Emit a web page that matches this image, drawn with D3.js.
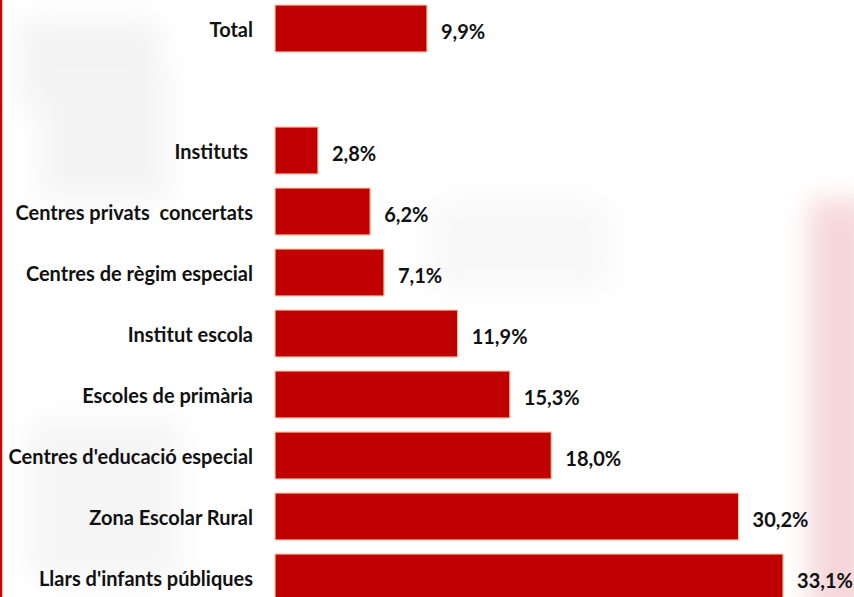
<!DOCTYPE html>
<html><head><meta charset="utf-8">
<script src="https://cdn.jsdelivr.net/npm/d3@7"></script>
<style>
html,body{margin:0;padding:0;background:#fff;}
svg text{white-space:pre;}
</style></head>
<body><svg id="c" width="854" height="597"></svg>
<script>
const categories = ["Total", "", "Instituts ", "Centres privats  concertats", "Centres de règim especial", "Institut escola", "Escoles de primària", "Centres d'educació especial", "Zona Escolar Rural", "Llars d'infants públiques"];
const values = [9.9, null, 2.8, 6.2, 7.1, 11.9, 15.3, 18.0, 30.2, 33.1];
const valueLabels = ["9,9%", "", "2,8%", "6,2%", "7,1%", "11,9%", "15,3%", "18,0%", "30,2%", "33,1%"];

const svg = d3.select("#c");
const W = 854, H = 597;

const defs = svg.append("defs");
defs.append("filter").attr("id","blur").append("feGaussianBlur").attr("stdDeviation", 14);
const bg = svg.append("g").attr("filter","url(#blur)");
bg.append("rect").attr("x",20).attr("y",20).attr("width",140).attr("height",90).attr("fill","#f3f3f3");
bg.append("rect").attr("x",40).attr("y",70).attr("width",130).attr("height",130).attr("fill","#f4f4f4");
bg.append("rect").attr("x",30).attr("y",420).attr("width",150).attr("height",160).attr("fill","#f5f5f5");
bg.append("rect").attr("x",810).attr("y",200).attr("width",60).attr("height",420).attr("fill","#f6d6d8");
bg.append("rect").attr("x",430).attr("y",200).attr("width",180).attr("height",90).attr("fill","#f8f8f8");

const y = d3.scaleBand().domain(d3.range(categories.length)).range([5, 601]).paddingInner(14/61).paddingOuter(0);
const x = d3.scaleLinear().domain([0, 10]).range([275, 275 + 153.5]);

svg.append("line").attr("x1",1).attr("x2",1).attr("y1",0).attr("y2",H).attr("stroke","#d40000").attr("stroke-width",2.5);

const idx = d3.range(categories.length).filter(i => values[i] != null);

svg.append("g").selectAll("rect").data(idx).join("rect")
  .attr("x", x(0))
  .attr("y", i => y(i))
  .attr("width", i => x(values[i]) - x(0))
  .attr("height", y.bandwidth())
  .attr("fill", "#c00000")
  .attr("stroke", "#f7c9a8")
  .attr("stroke-width", 1.2);

const font = "Lato, 'Liberation Sans', sans-serif";
const fs = 20;
svg.append("g").selectAll("text").data(idx).join("text")
  .attr("x", 253)
  .attr("y", i => y(i) + y.bandwidth()/2)
  .attr("text-anchor", "end")
  .attr("dominant-baseline", "central")
  .attr("font-family", font).attr("font-weight", "bold").attr("font-size", fs)
  .attr("fill", "#111")
  .text(i => categories[i]);

svg.append("g").selectAll("text").data(idx).join("text")
  .attr("x", i => x(values[i]) + 14)
  .attr("y", i => y(i) + y.bandwidth()/2 + 2)
  .attr("dominant-baseline", "central")
  .attr("font-family", font).attr("font-weight", "bold").attr("font-size", fs)
  .attr("fill", "#111")
  .text(i => valueLabels[i]);
</script></body></html>
